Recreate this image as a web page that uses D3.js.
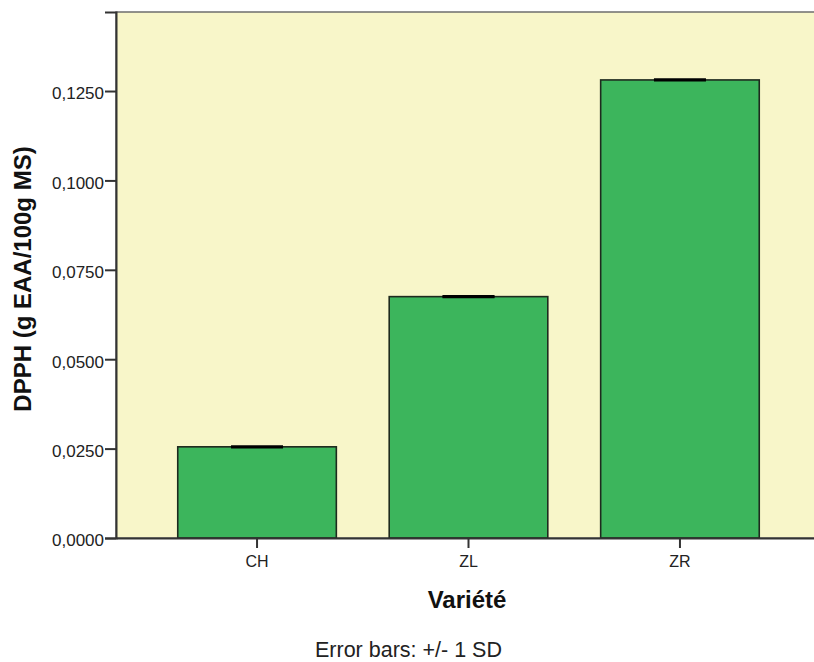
<!DOCTYPE html>
<html>
<head>
<meta charset="utf-8">
<script src="https://cdn.jsdelivr.net/npm/d3@7"></script>
<style>
  html, body { margin: 0; padding: 0; background: #ffffff; }
  svg { display: block; }
  text { font-family: "Liberation Sans", Arial, sans-serif; }
</style>
</head>
<body>
<svg id="chart" width="814" height="662"></svg>
<script>
// Antioxidant activity (DPPH) by variety
const categories = ["CH", "ZL", "ZR"];
const means = [0.0255, 0.0675, 0.1281];
const sds = [0.0001, 0.0001, 0.0001];
const yTicks = [0, 0.025, 0.05, 0.075, 0.1, 0.125];
const yMax = 0.1471;

const svg = d3.select("#chart");
const plot = { left: 116, top: 12, right: 821, bottom: 538 };

const x = d3.scaleBand()
  .domain(categories)
  .range([plot.left, plot.right])
  .paddingInner(0.25)
  .paddingOuter(0.292);

const y = d3.scaleLinear()
  .domain([0, yMax])
  .range([plot.bottom, plot.top]);

const frLocale = d3.formatLocale({ decimal: ",", thousands: " ", grouping: [3], currency: ["", " €"] });
const fmt = frLocale.format(".4f");

// plot background
svg.append("rect")
  .attr("x", plot.left).attr("y", plot.top)
  .attr("width", plot.right - plot.left).attr("height", plot.bottom - plot.top)
  .attr("fill", "#f8f6c9")
  .attr("stroke", "#6e6e6e").attr("stroke-width", 1.5);

// bars
svg.append("g").selectAll("rect")
  .data(categories)
  .join("rect")
  .attr("x", d => x(d))
  .attr("y", (d, i) => y(means[i]))
  .attr("width", x.bandwidth())
  .attr("height", (d, i) => y(0) - y(means[i]))
  .attr("fill", "#3cb55c")
  .attr("stroke", "#1e2a1e")
  .attr("stroke-width", 1.6);

// error bars (+/- 1 SD)
const capW = 52;
const eb = svg.append("g").attr("stroke", "#000").attr("stroke-width", 2.5);
categories.forEach((c, i) => {
  const cx = x(c) + x.bandwidth() / 2;
  const hi = y(means[i] + sds[i]);
  const lo = y(means[i] - sds[i]);
  eb.append("line").attr("x1", cx).attr("x2", cx).attr("y1", hi).attr("y2", lo);
  eb.append("line").attr("x1", cx - capW / 2).attr("x2", cx + capW / 2).attr("y1", hi).attr("y2", hi);
  eb.append("line").attr("x1", cx - capW / 2).attr("x2", cx + capW / 2).attr("y1", lo).attr("y2", lo);
});

// y axis
const yAxis = svg.append("g")
  .attr("transform", `translate(${plot.left},0)`)
  .call(d3.axisLeft(y).tickValues(yTicks).tickFormat(fmt).tickSize(11).tickPadding(1));
yAxis.select(".domain").attr("stroke", "#333").attr("stroke-width", 2);
yAxis.selectAll(".tick line").attr("stroke", "#333").attr("stroke-width", 2);
yAxis.selectAll(".tick text")
  .attr("font-size", 17).attr("fill", "#222").attr("dy", "0.46em")
  .attr("font-family", "'Liberation Sans', Arial, sans-serif");

// x axis
const xAxis = svg.append("g")
  .attr("transform", `translate(0,${plot.bottom})`)
  .call(d3.axisBottom(x).tickSize(10).tickPadding(8).tickSizeOuter(0));
xAxis.select(".domain").attr("stroke", "#333").attr("stroke-width", 2);
xAxis.selectAll(".tick line").attr("stroke", "#333").attr("stroke-width", 2);
xAxis.selectAll(".tick text")
  .attr("font-size", 16).attr("fill", "#222")
  .attr("font-family", "'Liberation Sans', Arial, sans-serif");

// axis titles
svg.append("text")
  .attr("transform", "translate(31,279) rotate(-90)")
  .attr("text-anchor", "middle")
  .attr("font-size", 24).attr("font-weight", "bold").attr("fill", "#111")
  .text("DPPH (g EAA/100g MS)");

svg.append("text")
  .attr("x", 467).attr("y", 608)
  .attr("text-anchor", "middle")
  .attr("font-size", 24).attr("font-weight", "bold").attr("fill", "#111")
  .text("Variété");

svg.append("text")
  .attr("x", 408.5).attr("y", 657)
  .attr("text-anchor", "middle")
  .attr("font-size", 21.5).attr("fill", "#222")
  .text("Error bars: +/- 1 SD");
</script>
</body>
</html>
